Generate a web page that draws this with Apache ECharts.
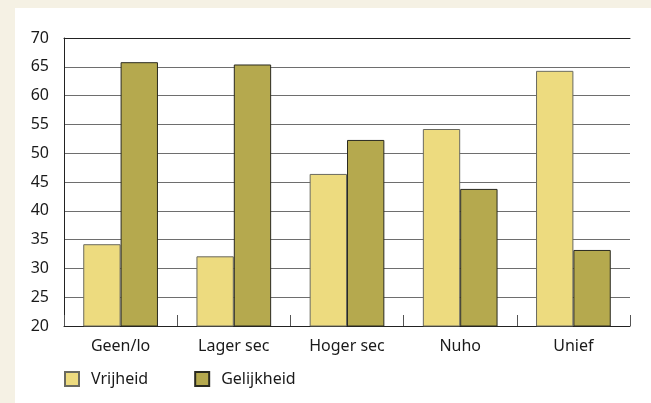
<!DOCTYPE html>
<html lang="nl">
<head>
    <meta charset="UTF-8">
    <title>Vrijheid en gelijkheid naar opleiding</title>
    <script src="https://cdn.jsdelivr.net/npm/echarts@6/dist/echarts.min.js"></script>
    <style>
        html, body {
            margin: 0;
            padding: 0;
            background-color: #f5f1e4;
        }
        .panel {
            position: absolute;
            left: 15px;
            top: 8px;
            width: 636px;
            height: 395px;
            background-color: #fff;
        }
        #chart {
            position: absolute;
            left: 0;
            top: 0;
            width: 651px;
            height: 403px;
        }
    </style>
</head>
<body>
    <div class="panel"></div>
    <div id="chart"></div>

    <script>
        // opleidingsniveau
        const categories = ['Geen/lo', 'Lager sec', 'Hoger sec', 'Nuho', 'Unief'];
        const vrijheid = [34.2, 32.1, 46.4, 54.2, 64.3];
        const gelijkheid = [65.8, 65.4, 52.3, 43.8, 33.2];

        const fontFamily = '"Noto Sans", "Open Sans", sans-serif';

        const chart = echarts.init(document.getElementById('chart'), null, { renderer: 'canvas' });

        const option = {
            backgroundColor: 'transparent',
            animation: false,
            textStyle: { fontFamily: fontFamily },
            grid: {
                left: 64,
                right: 21,
                top: 38,
                bottom: 77,
                containLabel: false,
                outerBoundsMode: 'none'
            },
            legend: {
                left: 64,
                top: 371,
                padding: 0,
                icon: 'rect',
                itemWidth: 14,
                itemHeight: 14,
                itemGap: 46,
                textStyle: {
                    fontSize: 16,
                    color: '#1a1a1a',
                    fontFamily: fontFamily,
                    padding: [0, 0, 0, 7]
                },
                data: ['Vrijheid', 'Gelijkheid']
            },
            xAxis: [
                {
                    type: 'category',
                    data: categories,
                    axisLine: { lineStyle: { color: '#222', width: 1 } },
                    axisTick: {
                        show: true,
                        inside: true,
                        length: 11,
                        lineStyle: { color: '#555' }
                    },
                    axisLabel: {
                        margin: 12,
                        fontSize: 16,
                        color: '#1a1a1a',
                        fontFamily: fontFamily
                    }
                },
                {
                    // bovenrand van het plotvlak
                    type: 'category',
                    position: 'top',
                    data: categories,
                    axisLine: { show: true, lineStyle: { color: '#222', width: 1 } },
                    axisTick: { show: false },
                    axisLabel: { show: false }
                }
            ],
            yAxis: {
                type: 'value',
                min: 20,
                max: 70,
                interval: 5,
                axisLine: { show: true, lineStyle: { color: '#222', width: 1 } },
                axisTick: { show: false },
                axisLabel: {
                    margin: 15,
                    fontSize: 16,
                    color: '#1a1a1a',
                    fontFamily: fontFamily
                },
                splitLine: { lineStyle: { color: '#6e6e6e', width: 1 } }
            },
            series: [
                {
                    name: 'Vrijheid',
                    type: 'bar',
                    data: vrijheid,
                    barGap: '0%',
                    barCategoryGap: '34%',
                    itemStyle: {
                        color: '#eddb7f',
                        borderColor: '#6a6a60',
                        borderWidth: 1
                    }
                },
                {
                    name: 'Gelijkheid',
                    type: 'bar',
                    data: gelijkheid,
                    barGap: '0%',
                    barCategoryGap: '34%',
                    itemStyle: {
                        color: '#b5a94e',
                        borderColor: '#2a2a20',
                        borderWidth: 1
                    }
                }
            ]
        };

        chart.setOption(option);
    </script>
</body>
</html>
